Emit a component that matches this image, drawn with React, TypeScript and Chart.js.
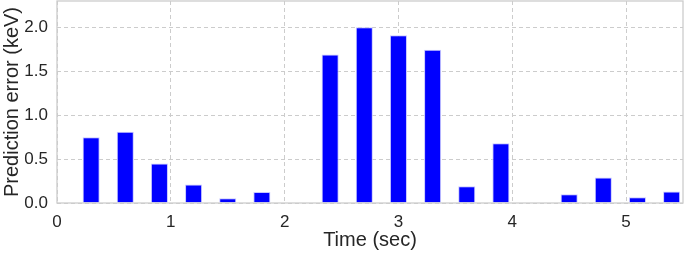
import React, { useEffect, useRef } from "react";
import { Chart, registerables } from "chart.js";

Chart.register(...registerables);

const times = [0.3, 0.6, 0.9, 1.2, 1.5, 1.8, 2.4, 2.7, 3.0, 3.3, 3.6, 3.9, 4.5, 4.8, 5.1, 5.4];
const errors = [0.75, 0.81, 0.45, 0.21, 0.055, 0.125, 1.69, 2.0, 1.91, 1.745, 0.19, 0.68, 0.1, 0.29, 0.065, 0.13];
const xTicks = [0, 1, 2, 3, 4, 5];
const yTicks = [0, 0.5, 1.0, 1.5, 2.0];

const borderPlugin = {
  id: "frameBorder",
  afterDatasetsDraw(chart: any) {
    const { ctx, chartArea } = chart;
    ctx.save();
    ctx.strokeStyle = "#cccccc";
    ctx.lineWidth = 1.3;
    ctx.setLineDash([]);
    ctx.strokeRect(chartArea.left, chartArea.top, chartArea.right - chartArea.left, chartArea.bottom - chartArea.top);
    ctx.restore();
  },
};

export default function App() {
  const ref = useRef<HTMLCanvasElement>(null);
  useEffect(() => {
    document.body.style.margin = "0";
    const font = "'Liberation Sans', Arial, sans-serif";
    const chart = new Chart(ref.current!, {
      type: "bar",
      data: {
        datasets: [
          {
            data: times.map((t, i) => ({ x: t, y: errors[i] })),
            backgroundColor: "#0000ff",
            borderColor: "#c8c8ff",
            borderWidth: 1,
            barPercentage: 0.5,
            categoryPercentage: 1.0,
          },
        ],
      },
      options: {
        animation: false,
        responsive: false,
        layout: { padding: { top: 1, right: 2, left: 0, bottom: 0 } },
        plugins: { legend: { display: false }, tooltip: { enabled: false } },
        scales: {
          x: {
            type: "linear",
            offset: false,
            min: 0,
            max: 5.5,
            afterBuildTicks: (s: any) => {
              s.ticks = xTicks.map((v) => ({ value: v }));
            },
            afterFit: (s: any) => {
              s.height = 50;
              s.paddingLeft = 0;
              s.paddingRight = 0;
              s.paddingTop = 0;
              s.paddingBottom = 0;
            },
            ticks: {
              color: "#262626",
              font: { family: font, size: 17 },
              padding: 9,
              maxRotation: 0,
              callback: (v: any) => String(v),
            },
            grid: {
              color: "#cccccc",
              lineWidth: 1,
              drawTicks: false,
              tickLength: 0,
              offset: false,
            },
            border: { display: false, dash: [4, 3] },
            title: {
              display: true,
              text: "Time (sec)",
              color: "#262626",
              font: { family: font, size: 20 },
              padding: { top: 0, bottom: 1 },
            },
          },
          y: {
            min: 0,
            max: 2.3,
            afterBuildTicks: (s: any) => {
              s.ticks = yTicks.map((v) => ({ value: v }));
            },
            afterFit: (s: any) => {
              s.width = 57;
              s.paddingLeft = 0;
              s.paddingRight = 0;
              s.paddingTop = 0;
              s.paddingBottom = 0;
            },
            ticks: {
              color: "#262626",
              font: { family: font, size: 17 },
              padding: 9,
              callback: (v: any) => Number(v).toFixed(1),
            },
            grid: {
              color: "#cccccc",
              lineWidth: 1,
              drawTicks: false,
              tickLength: 0,
            },
            border: { display: false, dash: [4, 3] },
            title: {
              display: true,
              text: "Prediction error (keV)",
              color: "#262626",
              font: { family: font, size: 20 },
              padding: { top: 0, bottom: 0 },
            },
          },
        },
      },
      plugins: [borderPlugin],
    });
    return () => chart.destroy();
  }, []);
  return (
    <div style={{ position: "absolute", left: 0, top: 0, width: 685, height: 253 }}>
      <canvas ref={ref} width={685} height={253} />
    </div>
  );
}
